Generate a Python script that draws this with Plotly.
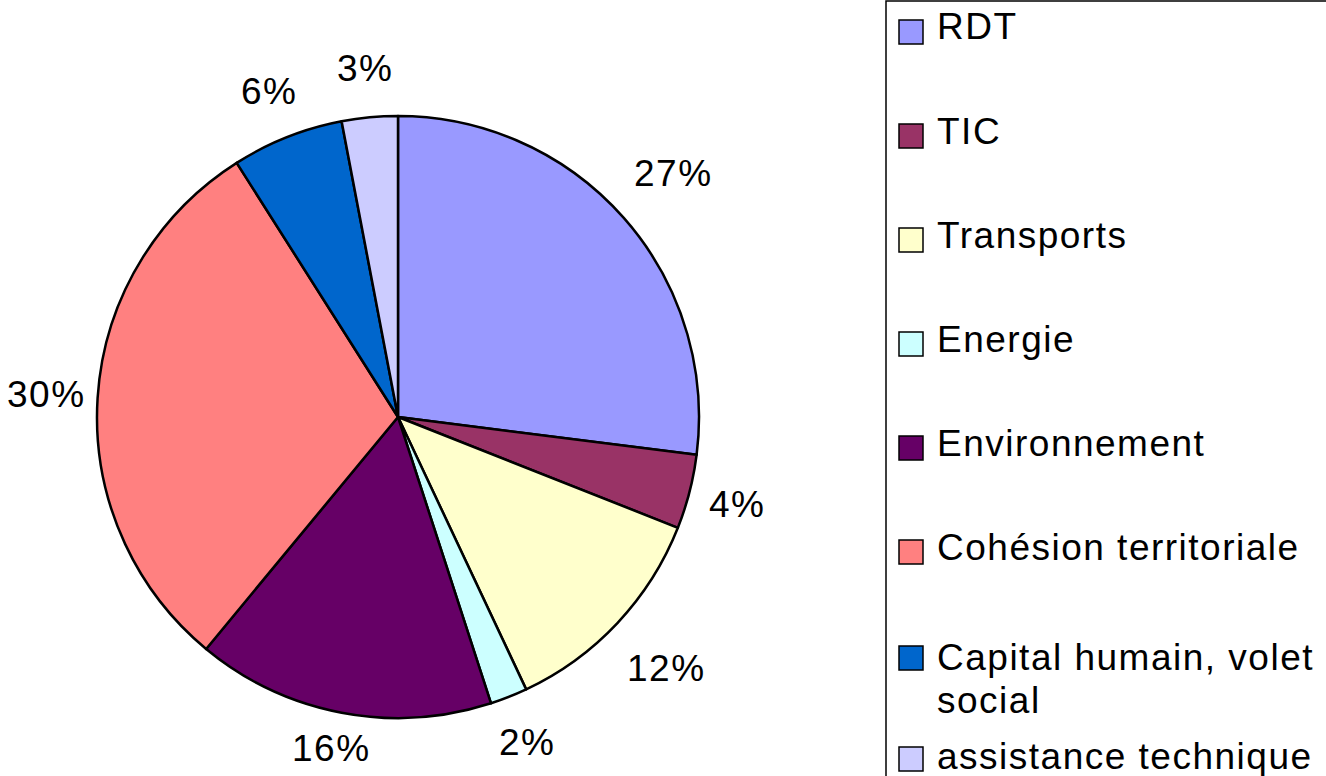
import math
import textwrap
import plotly.graph_objects as go

# ---- data ----
categories = ["RDT", "TIC", "Transports", "Energie", "Environnement",
              "Cohésion territoriale", "Capital humain, volet social",
              "assistance technique"]
shares = [27, 4, 12, 2, 16, 30, 6, 3]
colors = ["#9999FF", "#993366", "#FFFFCC", "#CCFFFF", "#660066",
          "#FF8080", "#0066CC", "#CCCCFF"]

# ---- layout constants (page pixels) ----
W, H = 1326, 776
CX, CY, R = 398, 417, 301
LABEL_R = 350
LABEL_YMAX = 748
FONT = "Liberation Sans, Arial, sans-serif"
FS = 37
LS = 1.5
LEGEND_ROW_Y = [27, 131, 235, 339, 443, 547, 657, 756]
SWATCH_DY = [5, 5, 5, 5, 5, 5, 1, 3]
LINE_GAP = 43


def px(x):
    return x / W


def py(y):
    return 1 - y / H


def spaced(t):
    return f'<span style="letter-spacing:{LS}px">{t}</span>'


fig = go.Figure(go.Pie(
    labels=categories, values=shares, sort=False, direction="clockwise",
    rotation=0, textinfo="none", showlegend=False, hoverinfo="label+percent",
    marker=dict(colors=colors, line=dict(color="black", width=2.5)),
    domain=dict(x=[px(CX - R), px(CX + R)], y=[py(CY + R), py(CY - R)]),
))

annotations = []
shapes = []

# percentage labels outside the slices
total = sum(shares)
cum = 0
for v in shares:
    mid = (cum + v / 2) / total * 2 * math.pi
    cum += v
    txt = f"{round(v / total * 100)}%"
    dist = LABEL_R + (len(txt) - 2) * 18 * abs(math.sin(2 * mid))
    x = CX + dist * math.sin(mid)
    y = min(CY - dist * math.cos(mid), LABEL_YMAX)
    annotations.append(dict(
        x=px(x), y=py(y), xref="paper", yref="paper", showarrow=False,
        xanchor="center", yanchor="middle", text=spaced(txt),
        font=dict(family=FONT, size=FS, color="black"),
    ))

# legend box
shapes.append(dict(type="rect", xref="paper", yref="paper",
                   x0=px(886), x1=1.05, y0=-0.05, y1=py(0.9),
                   line=dict(color="black", width=1.5), fillcolor="rgba(0,0,0,0)"))

for i, (cat, col) in enumerate(zip(categories, colors)):
    ry = LEGEND_ROW_Y[i]
    sy = ry + SWATCH_DY[i]
    shapes.append(dict(type="rect", xref="paper", yref="paper",
                       x0=px(899), x1=px(923), y0=py(sy + 12), y1=py(sy - 12),
                       line=dict(color="black", width=1.5), fillcolor=col))
    for k, line in enumerate(textwrap.wrap(cat, 22)):
        annotations.append(dict(
            x=px(935), y=py(ry + k * LINE_GAP), xref="paper", yref="paper",
            showarrow=False, xanchor="left", yanchor="middle", text=spaced(line),
            font=dict(family=FONT, size=FS, color="black"),
        ))

fig.update_layout(
    width=W, height=H, margin=dict(l=0, r=0, t=0, b=0),
    paper_bgcolor="white", plot_bgcolor="white",
    annotations=annotations, shapes=shapes, showlegend=False,
)

fig.write_html(
    "out.html",
    config={"displayModeBar": False},
    post_script="document.body.style.margin='0';document.body.style.overflow='hidden';",
)
